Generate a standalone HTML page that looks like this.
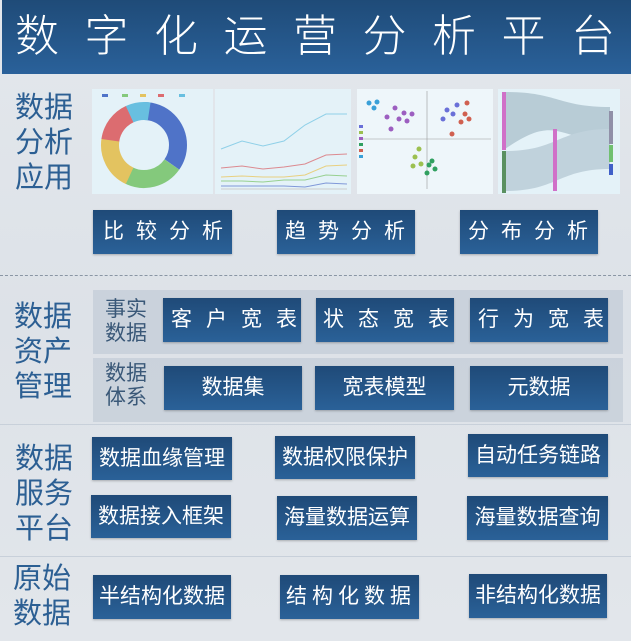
<!DOCTYPE html>
<html><head><meta charset="utf-8"><style>
*{margin:0;padding:0;box-sizing:border-box}
body{width:631px;height:641px;overflow:hidden;position:relative;background:linear-gradient(180deg,#e3e7ec,#dde2e8 50%,#e2e6eb);font-family:"Liberation Sans","Noto Sans CJK SC",sans-serif}
.a{position:absolute}
.hdr{left:2px;top:0;width:629px;height:74px;background:linear-gradient(180deg,#1f4b78,#2a619a);color:#fff;font-size:44px;white-space:nowrap;line-height:74px;padding-left:13px;letter-spacing:25.5px;font-weight:300;overflow:hidden}
.b{position:absolute;background:linear-gradient(180deg,#1f4a78,#2a6198);color:#fff;font-size:21px;text-align:center;white-space:nowrap;box-shadow:0 1px 2px rgba(0,0,0,.25);overflow:hidden}
.l{text-align:left}
.lab{position:absolute;color:#2c5f93;font-size:29px;line-height:35px;width:60px}
.sub{position:absolute;color:#3a5878;font-size:21px;line-height:24px}
.panel{position:absolute;background:rgba(190,200,212,.6)}
.ch{position:absolute;background:#e4f2f8}
</style></head><body>
<div class="a hdr">数字化运营分析平台</div>

<div class="lab" style="left:15px;top:91px">数据<br>分析<br>应用</div>
<div class="ch" style="left:92px;top:89px;width:121px;height:105px">
<svg width="121" height="105" viewBox="0 0 121 105">
<g transform="translate(52,56)" fill="none" stroke-width="18">
<circle r="34" stroke="#4f73c8" stroke-dasharray="74 300" transform="rotate(-90)"/>
<circle r="34" stroke="#84c97c" stroke-dasharray="48 300" transform="rotate(35)"/>
<circle r="34" stroke="#e3c360" stroke-dasharray="44 300" transform="rotate(115)"/>
<circle r="34" stroke="#dc6c70" stroke-dasharray="34 300" transform="rotate(188)"/>
<circle r="34" stroke="#68bfe0" stroke-dasharray="20 300" transform="rotate(245)"/>
</g>
<g><rect x="10" y="5" width="6" height="3" fill="#4f73c8"/><rect x="30" y="5" width="6" height="3" fill="#84c97c"/><rect x="48" y="5" width="6" height="3" fill="#e3c360"/><rect x="66" y="5" width="6" height="3" fill="#dc6c70"/><rect x="87" y="5" width="6" height="3" fill="#68bfe0"/></g>
</svg></div>
<div class="ch" style="left:215px;top:89px;width:136px;height:105px">
<svg width="136" height="105" fill="none" stroke-width="1">
<polyline stroke="#8fd0e8" points="6,60 27,52 48,57 69,52 90,36 111,25 132,25"/>
<polyline stroke="#dc8a90" points="6,79 27,77 48,80 69,78 90,75 111,66 132,65"/>
<polyline stroke="#e8d080" points="6,88 27,87 48,88 69,88 90,86 111,77 132,76"/>
<polyline stroke="#98d090" points="6,92 27,92 48,93 69,91 90,91 111,86 132,87"/>
<polyline stroke="#8098d8" points="6,97 27,97 48,97 69,97 90,98 111,94 132,95"/>
<line x1="6" y1="100" x2="132" y2="100" stroke="#ccc"/>
</svg></div>
<div class="ch" style="left:357px;top:89px;width:136px;height:105px;background:#eef6fa">
<svg width="136" height="105"><line x1="70" y1="2" x2="70" y2="100" stroke="#999" stroke-width=".6"/><line x1="2" y1="50" x2="134" y2="50" stroke="#999" stroke-width=".6"/>
<g fill="#9c5ec0"><circle cx="38" cy="19" r="2.5"/><circle cx="47" cy="24" r="2.5"/><circle cx="42" cy="30" r="2.5"/><circle cx="30" cy="28" r="2.5"/><circle cx="50" cy="32" r="2.5"/><circle cx="55" cy="25" r="2.5"/><circle cx="34" cy="40" r="2.5"/></g>
<g fill="#3aa0d8"><circle cx="12" cy="14" r="2.5"/><circle cx="20" cy="13" r="2.5"/><circle cx="17" cy="19" r="2.5"/></g>
<g fill="#6a70d8"><circle cx="90" cy="21" r="2.5"/><circle cx="100" cy="16" r="2.5"/><circle cx="96" cy="25" r="2.5"/><circle cx="86" cy="30" r="2.5"/></g>
<g fill="#d06050"><circle cx="108" cy="25" r="2.5"/><circle cx="104" cy="33" r="2.5"/><circle cx="112" cy="30" r="2.5"/><circle cx="110" cy="14" r="2.5"/><circle cx="95" cy="45" r="2.5"/></g>
<g fill="#9cc050"><circle cx="62" cy="60" r="2.5"/><circle cx="58" cy="68" r="2.5"/><circle cx="64" cy="75" r="2.5"/><circle cx="56" cy="77" r="2.5"/></g>
<g fill="#30a060"><circle cx="72" cy="76" r="2.5"/><circle cx="78" cy="80" r="2.5"/><circle cx="70" cy="84" r="2.5"/><circle cx="75" cy="72" r="2.5"/></g>
<g><rect x="2" y="36" width="4" height="3" fill="#6a70d8"/><rect x="2" y="42" width="4" height="3" fill="#9cc050"/><rect x="2" y="48" width="4" height="3" fill="#9c5ec0"/><rect x="2" y="54" width="4" height="3" fill="#30a060"/><rect x="2" y="60" width="4" height="3" fill="#d06050"/><rect x="2" y="66" width="4" height="3" fill="#3aa0d8"/></g>
</svg></div>
<div class="ch" style="left:498px;top:89px;width:122px;height:105px">
<svg width="122" height="105"><path d="M7,3 C60,3 60,18 112,18 L112,52 C60,52 60,23 7,60Z" fill="#b8ccd6"/><path d="M7,62 C60,62 60,40 112,40 L112,80 C60,80 60,102 7,102Z" fill="#c0d2dc"/>
<rect x="4" y="3" width="4" height="58" fill="#d070c8"/><rect x="4" y="62" width="4" height="42" fill="#5a9060"/><rect x="55" y="40" width="4" height="62" fill="#d070c8"/><rect x="111" y="22" width="4" height="33" fill="#9090a8"/><rect x="111" y="56" width="4" height="17" fill="#70c070"/><rect x="111" y="75" width="4" height="11" fill="#4060c8"/></svg></div>

<div class="b l" style="left:93px;top:210px;width:139px;height:44px;line-height:44px;letter-spacing:12px;padding-left:10px">比较分析</div>
<div class="b l" style="left:277px;top:210px;width:138px;height:44px;line-height:44px;letter-spacing:12px;padding-left:8px">趋势分析</div>
<div class="b l" style="left:460px;top:210px;width:138px;height:44px;line-height:44px;letter-spacing:12px;padding-left:8px">分布分析</div>
<div class="a" style="left:0;top:275px;width:631px;border-top:1px dashed #8a96a4"></div>

<div class="lab" style="left:14px;top:300px">数据<br>资产<br>管理</div>
<div class="panel" style="left:93px;top:290px;width:530px;height:64px"></div>
<div class="panel" style="left:93px;top:358px;width:530px;height:64px"></div>
<div class="sub" style="left:105px;top:298px">事实<br>数据</div>
<div class="sub" style="left:105px;top:362px">数据<br>体系</div>
<div class="b l" style="left:163px;top:298px;width:138px;height:44px;line-height:44px;letter-spacing:14px;padding-left:8px">客户宽表</div>
<div class="b l" style="left:316px;top:298px;width:138px;height:44px;line-height:44px;letter-spacing:14px;padding-left:7px">状态宽表</div>
<div class="b l" style="left:470px;top:298px;width:138px;height:44px;line-height:44px;letter-spacing:14px;padding-left:8px">行为宽表</div>
<div class="b" style="left:164px;top:366px;width:138px;height:44px;line-height:44px">数据集</div>
<div class="b" style="left:315px;top:366px;width:139px;height:44px;line-height:44px">宽表模型</div>
<div class="b" style="left:470px;top:366px;width:138px;height:44px;line-height:44px">元数据</div>
<div class="a" style="left:0;top:424px;width:631px;border-top:1px solid #c8d0da"></div>

<div class="lab" style="left:15px;top:442px">数据<br>服务<br>平台</div>
<div class="b" style="left:92px;top:437px;width:140px;height:43px;line-height:43px">数据血缘管理</div>
<div class="b" style="left:275px;top:436px;width:140px;height:43px;line-height:43px">数据权限保护</div>
<div class="b" style="left:468px;top:434px;width:140px;height:43px;line-height:43px">自动任务链路</div>
<div class="b" style="left:91px;top:495px;width:140px;height:43px;line-height:43px">数据接入框架</div>
<div class="b" style="left:277px;top:496px;width:140px;height:44px;line-height:44px">海量数据运算</div>
<div class="b" style="left:467px;top:496px;width:141px;height:44px;line-height:44px">海量数据查询</div>
<div class="a" style="left:0;top:556px;width:631px;border-top:1px solid #c8d0da"></div>

<div class="lab" style="left:13px;top:562px">原始<br>数据</div>
<div class="b" style="left:93px;top:575px;width:138px;height:44px;line-height:44px">半结构化数据</div>
<div class="b l" style="left:280px;top:575px;width:139px;height:44px;line-height:44px;letter-spacing:5px;padding-left:6px">结构化数据</div>
<div class="b" style="left:469px;top:574px;width:138px;height:44px;line-height:44px">非结构化数据</div>
</body></html>
